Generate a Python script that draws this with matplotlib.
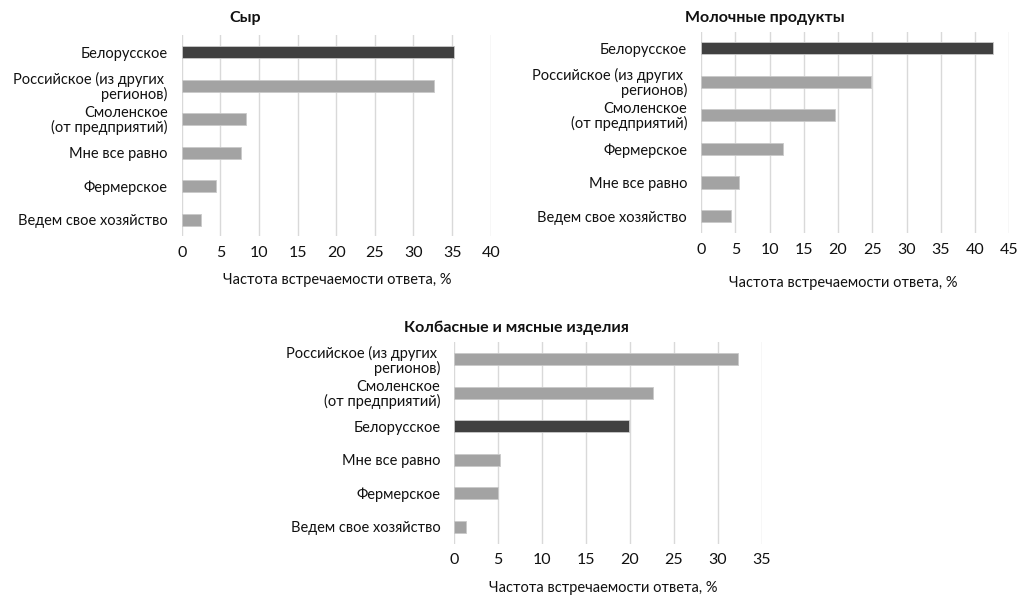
import matplotlib
matplotlib.use("Agg")
import matplotlib.pyplot as plt
import numpy as np

plt.rcParams['font.family'] = ['Lato', 'DejaVu Sans']

# ---- data ----
cats_cheese = ['Белорусское', 'Российское (из других \nрегионов)', 'Смоленское\n(от предприятий)',
               'Мне все равно', 'Фермерское', 'Ведем свое хозяйство']
vals_cheese = [35.2, 32.6, 8.35, 7.7, 4.5, 2.55]

cats_dairy = ['Белорусское', 'Российское (из других \nрегионов)', 'Смоленское\n(от предприятий)',
              'Фермерское', 'Мне все равно', 'Ведем свое хозяйство']
vals_dairy = [42.6, 24.8, 19.55, 11.9, 5.6, 4.4]

cats_meat = ['Российское (из других \nрегионов)', 'Смоленское\n(от предприятий)', 'Белорусское',
             'Мне все равно', 'Фермерское', 'Ведем свое хозяйство']
vals_meat = [32.3, 22.6, 19.9, 5.25, 4.98, 1.37]

titles = ['Сыр', 'Молочные продукты', 'Колбасные и мясные изделия']
xlabel = 'Частота встречаемости ответа, %'
highlight = 'Белорусское'

W, H = 1020, 595
fig = plt.figure(figsize=(W / 100, H / 100), dpi=100)
fig.patch.set_facecolor('white')

DARK = '#404040'
LIGHT = '#a3a3a3'
GRID = '#d9d9d9'
TXT = '#111111'
FS = 10.5


def px_axes(l, r, t, b):
    return fig.add_axes([l / W, 1 - b / H, (r - l) / W, (b - t) / H])


def draw(ax, cats, vals, xmax):
    y = np.arange(len(cats))
    colors = [DARK if c == highlight else LIGHT for c in cats]
    ax.barh(y, vals, height=0.36, color=colors, edgecolor='#c9c9c9', linewidth=0.6, zorder=3)
    ax.set_ylim(len(cats) - 0.5, -0.5)
    ax.set_xlim(0, xmax)
    ax.set_xticks(np.arange(0, xmax + 1, 5))
    ax.set_yticks(y)
    ax.set_yticklabels(cats, fontsize=FS, color=TXT, linespacing=1.0, multialignment='right')
    ax.tick_params(axis='y', length=0, pad=10)
    ax.tick_params(axis='x', length=0, pad=7, labelsize=11.5, colors=TXT)
    ax.grid(axis='x', color=GRID, linewidth=1.0, zorder=0)
    ax.set_axisbelow(True)
    for s in ax.spines.values():
        s.set_visible(False)


ax1 = px_axes(181.7, 490.7, 35.5, 236.5)
draw(ax1, cats_cheese, vals_cheese, 40)
ax2 = px_axes(701, 1009.3, 31.6, 232.8)
draw(ax2, cats_dairy, vals_dairy, 45)
ax3 = px_axes(454.3, 761.7, 342.4, 543.5)
draw(ax3, cats_meat, vals_meat, 35)

# titles
for (x, y), t in zip([(245, 18), (765, 18), (516, 328)], titles):
    fig.text(x / W, 1 - y / H, t, ha='center', va='center', fontsize=11.5, fontweight='bold', color=TXT)

# x-axis labels
for x, y in [(337, 280), (843, 283), (603, 588)]:
    fig.text(x / W, 1 - y / H, xlabel, ha='center', va='center', fontsize=FS, color=TXT)

fig.savefig('out.png', dpi=100, facecolor='white')
